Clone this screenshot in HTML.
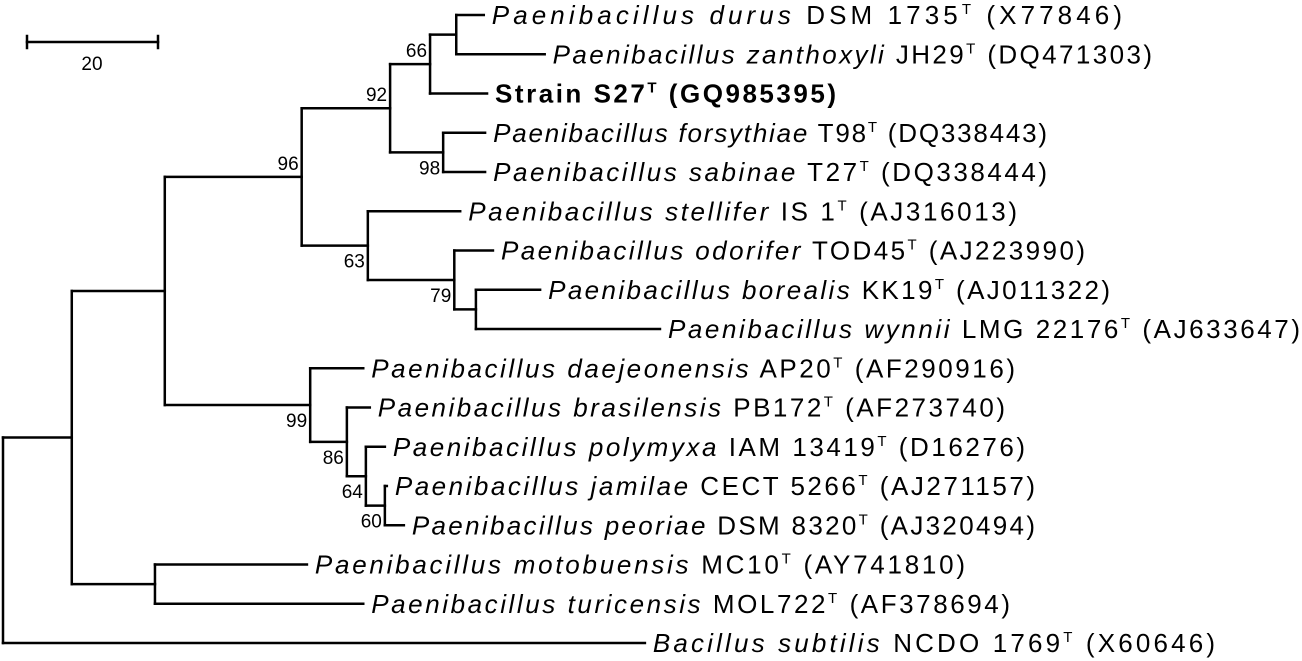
<!DOCTYPE html>
<html><head><meta charset="utf-8"><style>
html,body{margin:0;padding:0;background:#fff;}
svg{display:block;}
text{font-family:"Liberation Sans",Arial,sans-serif;fill:#000;}
</style></head><body>
<svg id="tree" width="1302" height="661" viewBox="0 0 1302 661" xmlns="http://www.w3.org/2000/svg"></svg>
<script>
// Tip data (order top to bottom)
const tipNames = ["durus","zanthoxyli","strain","forsythiae","sabinae","stellifer","odorifer","borealis","wynnii","daejeonensis","brasilensis","polymyxa","jamilae","peoriae","motobuensis","turicensis","bsubtilis"];
const tipGenus = ["Paenibacillus durus","Paenibacillus zanthoxyli","","Paenibacillus forsythiae","Paenibacillus sabinae","Paenibacillus stellifer","Paenibacillus odorifer","Paenibacillus borealis","Paenibacillus wynnii","Paenibacillus daejeonensis","Paenibacillus brasilensis","Paenibacillus polymyxa","Paenibacillus jamilae","Paenibacillus peoriae","Paenibacillus motobuensis","Paenibacillus turicensis","Bacillus subtilis"];
const tipStrain = ["DSM 1735","JH29","Strain S27","T98","T27","IS 1","TOD45","KK19","LMG 22176","AP20","PB172","IAM 13419","CECT 5266","DSM 8320","MC10","MOL722","NCDO 1769"];
const tipAcc = ["(X77846)","(DQ471303)","(GQ985395)","(DQ338443)","(DQ338444)","(AJ316013)","(AJ223990)","(AJ011322)","(AJ633647)","(AF290916)","(AF273740)","(D16276)","(AJ271157)","(AJ320494)","(AY741810)","(AF378694)","(X60646)"];
// Tip depths (distance from root, scale units)
const tipDepth = [73.4,82.7,73.9,73.6,73.6,69.8,74.8,82.0,100.3,55.0,56.0,58.3,58.6,61.2,46.4,55.0,98.0];
// Internal nodes: name, depth, children, bootstrap
const nodeNames = ["F","E","G","D","J","I","H","C","N","M","L","K","B","O","A","root"];
const nodeDepth = [69.2,65.2,67.2,59.1,72.2,68.9,55.7,45.6,58.3,55.4,52.5,46.9,24.7,23.2,10.5,0];
const nodeChildren = [["durus","zanthoxyli"],["F","strain"],["forsythiae","sabinae"],["E","G"],["borealis","wynnii"],["odorifer","J"],["stellifer","I"],["D","H"],["jamilae","peoriae"],["polymyxa","N"],["brasilensis","M"],["daejeonensis","L"],["C","K"],["motobuensis","turicensis"],["B","O"],["A","bsubtilis"]];
const nodeBoot = ["","66","98","92","","79","63","96","60","64","86","99","","","",""];
// Label text end positions (px, as in figure)
const tipLabelEnd = [1122,1152,836,1047,1047,1017,1085,1110,1300,1015,1005,1025,1035,1035,965,1010,1215];

const svg=document.getElementById('tree');
const NS="http://www.w3.org/2000/svg";
const x0=3, pxPerUnit=6.55, yTop=15, ySpace=39.25;
const xs=d=>x0+d*pxPerUnit;
const pos={};
tipNames.forEach((n,i)=>{pos[n]={x:xs(tipDepth[i]),y:yTop+i*ySpace};});
nodeNames.forEach((n,i)=>{
  const ys=nodeChildren[i].map(c=>pos[c].y);
  pos[n]={x:xs(nodeDepth[i]),y:(Math.min(...ys)+Math.max(...ys))/2,top:Math.min(...ys),bot:Math.max(...ys)};
});
function line(x1,y1,x2,y2,name){
  const l=document.createElementNS(NS,'line');
  l.setAttribute('x1',x1);l.setAttribute('y1',y1);l.setAttribute('x2',x2);l.setAttribute('y2',y2);
  l.setAttribute('stroke','#000');l.setAttribute('stroke-width','2.5');l.setAttribute('stroke-linecap','square');
  
  
  svg.appendChild(l);
}
function text(x,y,s,size,anchor,name){
  const t=document.createElementNS(NS,'text');
  t.setAttribute('x',x);t.setAttribute('y',y);t.setAttribute('font-size',size);
  if(anchor)t.setAttribute('text-anchor',anchor);
  t.textContent=s;
  
  
  svg.appendChild(t);return t;
}
nodeNames.forEach((n,i)=>{
  const p=pos[n];
  line(p.x,p.top,p.x,p.bot,'node-'+n+'-vertical');
  nodeChildren[i].forEach(c=>{line(p.x,pos[c].y,pos[c].x,pos[c].y,'branch-'+c);});
  nodeChildren[i].forEach(c=>{
    const ci=nodeNames.indexOf(c);
    if(ci>=0 && nodeBoot[ci]){
      const above = (pos[c].y<p.y) || c==="C";
      const by = above ? pos[c].y-7 : pos[c].y+22;
      text(pos[c].x-3,by,nodeBoot[ci],19,'end','bootstrap-'+nodeBoot[ci]);
    }
  });
});
tipNames.forEach((n,i)=>{
  const p=pos[n];
  const t=document.createElementNS(NS,'text');
  const sx=p.x+8;
  t.setAttribute('x',sx);t.setAttribute('y',p.y+9);t.setAttribute('font-size',26);
  t.setAttribute('textLength',tipLabelEnd[i]-sx);t.setAttribute('lengthAdjust','spacing');
  
  
  if(n==="strain") t.setAttribute('font-weight','bold');
  let html='';
  if(tipGenus[i]) html+='<tspan font-style="italic">'+tipGenus[i]+'</tspan> ';
  html+=tipStrain[i]+'<tspan font-size="15" dy="-10">T</tspan><tspan dy="10"> '+tipAcc[i]+'</tspan>';
  t.innerHTML=html;
  svg.appendChild(t);
});
// scale bar
line(27,42,158,42,'scale-bar');
line(27,36,27,48,'scale-bar-left-tick');
line(158,36,158,48,'scale-bar-right-tick');
text(92,70,'20',19,'middle','scale-bar-label');
</script>
</body></html>
